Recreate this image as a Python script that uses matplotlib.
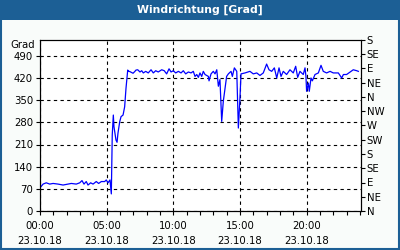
import matplotlib
matplotlib.use("Agg")
import matplotlib.pyplot as plt
from matplotlib.patches import Rectangle
from matplotlib.ticker import MultipleLocator, FixedLocator

# hours since 23.10.18 00:00 and wind direction (deg, unwrapped)
hours = [0.02, 0.23, 0.47, 0.73, 0.98, 1.35, 1.73, 2.1, 2.35, 2.72, 2.98, 3.15, 3.3, 3.47,
         3.6, 3.8, 3.98, 4.22, 4.4, 4.6, 4.85, 4.97, 5.1, 5.25, 5.35, 5.42, 5.5, 5.55,
         5.7, 5.78, 5.85, 5.98, 6.08, 6.23, 6.35, 6.45, 6.58, 6.62, 6.75, 6.98, 7.1,
         7.2, 7.33, 7.5, 7.63, 7.75, 7.93, 8.12, 8.33, 8.5, 8.68, 8.87, 9.13, 9.32, 9.5,
         9.68, 9.83, 10.0, 10.18, 10.38, 10.58, 10.75, 10.93, 11.13, 11.33, 11.5, 11.63,
         11.76, 11.88, 12.0, 12.13, 12.25, 12.38, 12.63, 12.68, 12.83, 13.0, 13.13, 13.26,
         13.38, 13.5, 13.63, 13.75, 13.88, 14.0, 14.13, 14.33, 14.43, 14.58, 14.76, 14.88,
         15.0, 15.08, 15.38, 15.75, 16.0, 16.26, 16.5, 16.75, 17.0, 17.18, 17.38, 17.58,
         17.76, 17.93, 18.08, 18.25, 18.5, 18.75, 19.0, 19.18, 19.33, 19.5, 19.75, 19.88,
         19.95, 20.0, 20.13, 20.2, 20.33, 20.43, 20.63, 20.88, 21.08, 21.25, 21.5, 21.76,
         22.0, 22.38, 22.63, 22.76, 23.0, 23.26, 23.5, 23.76, 23.88]
direction = [74, 85, 89, 85, 87, 85, 82, 85, 87, 85, 89, 96, 85, 93,
             82, 89, 85, 93, 87, 93, 93, 98, 89, 98, 54, 240, 303, 266,
             224, 217, 246, 282, 298, 303, 329, 387, 445, 442, 440, 435, 440,
             445, 446, 439, 443, 436, 441, 436, 446, 436, 443, 439, 446, 443, 433,
             449, 439, 443, 436, 441, 436, 443, 433, 439, 436, 441, 425,
             431, 422, 436, 425, 441, 431, 425, 411, 433, 441, 433, 446,
             394, 415, 283, 346, 388, 425, 433, 441, 425, 452, 441, 262,
             357, 433, 436, 441, 433, 436, 428, 436, 464, 446, 441, 452,
             420, 452, 425, 441, 431, 446, 436, 457, 422, 441, 431, 452,
             425, 378, 404, 378, 420, 411, 431, 436, 460, 441, 436, 441,
             436, 436, 420, 431, 431, 439, 446, 443, 441]

yticks_left = [0, 70, 140, 210, 280, 350, 420, 490]
compass = ["N", "NE", "E", "SE", "S", "SW", "W", "NW", "N", "NE", "E", "SE", "S"]
xticks = [0, 5, 10, 15, 20]
xlabels = ["00:00\n23.10.18", "05:00\n23.10.18", "10:00\n23.10.18",
           "15:00\n23.10.18", "20:00\n23.10.18"]

bar_col = "#1c5f95"
bg = "#f9fcfa"

fig = plt.figure(figsize=(4, 2.5), dpi=100, facecolor=bg)
fig.patches.append(Rectangle((0, 0.92), 1, 0.08, transform=fig.transFigure,
                             facecolor=bar_col, edgecolor="none", zorder=0))
fig.patches.append(Rectangle((0.002, 0.003), 0.995, 0.995, transform=fig.transFigure,
                             facecolor="none", edgecolor=bar_col, linewidth=1.5, zorder=5))
fig.text(0.5, 0.96, "Windrichtung [Grad]", color="white", fontsize=7.8,
         fontweight="bold", ha="center", va="center")

ax = fig.add_axes([0.1, 0.156, 0.8025, 0.684])
ax.set_facecolor("white")
ax.plot(hours, direction, color="#0000ff", lw=0.9)
ax.set_xlim(0, 24.08)
ax.set_ylim(0, 540)

ax.set_yticks(yticks_left)
ax.set_xticks(xticks)
ax.set_xticklabels(xlabels, linespacing=1.6)
ax.xaxis.set_minor_locator(MultipleLocator(1))
ax.tick_params(axis="both", which="both", direction="out", labelsize=7.3, length=3,
               width=0.8, colors="black", pad=2)
ax.tick_params(axis="x", which="major", pad=4)
ax.grid(True, which="major", color="black", linestyle=(0, (3, 3)), linewidth=0.8)

ax2 = ax.twinx()
ax2.set_ylim(0, 540)
ax2.yaxis.set_major_locator(FixedLocator(range(0, 541, 45)))
ax2.set_yticklabels(compass)
ax2.tick_params(axis="y", direction="out", labelsize=7.3, length=3, width=0.8, pad=1)

for a in (ax, ax2):
    for s in a.spines.values():
        s.set_linewidth(0.8)

fig.text(0.088, 0.818, "Grad", fontsize=7.3, ha="right", va="center")

fig.savefig("out.png", dpi=100, facecolor=bg)
